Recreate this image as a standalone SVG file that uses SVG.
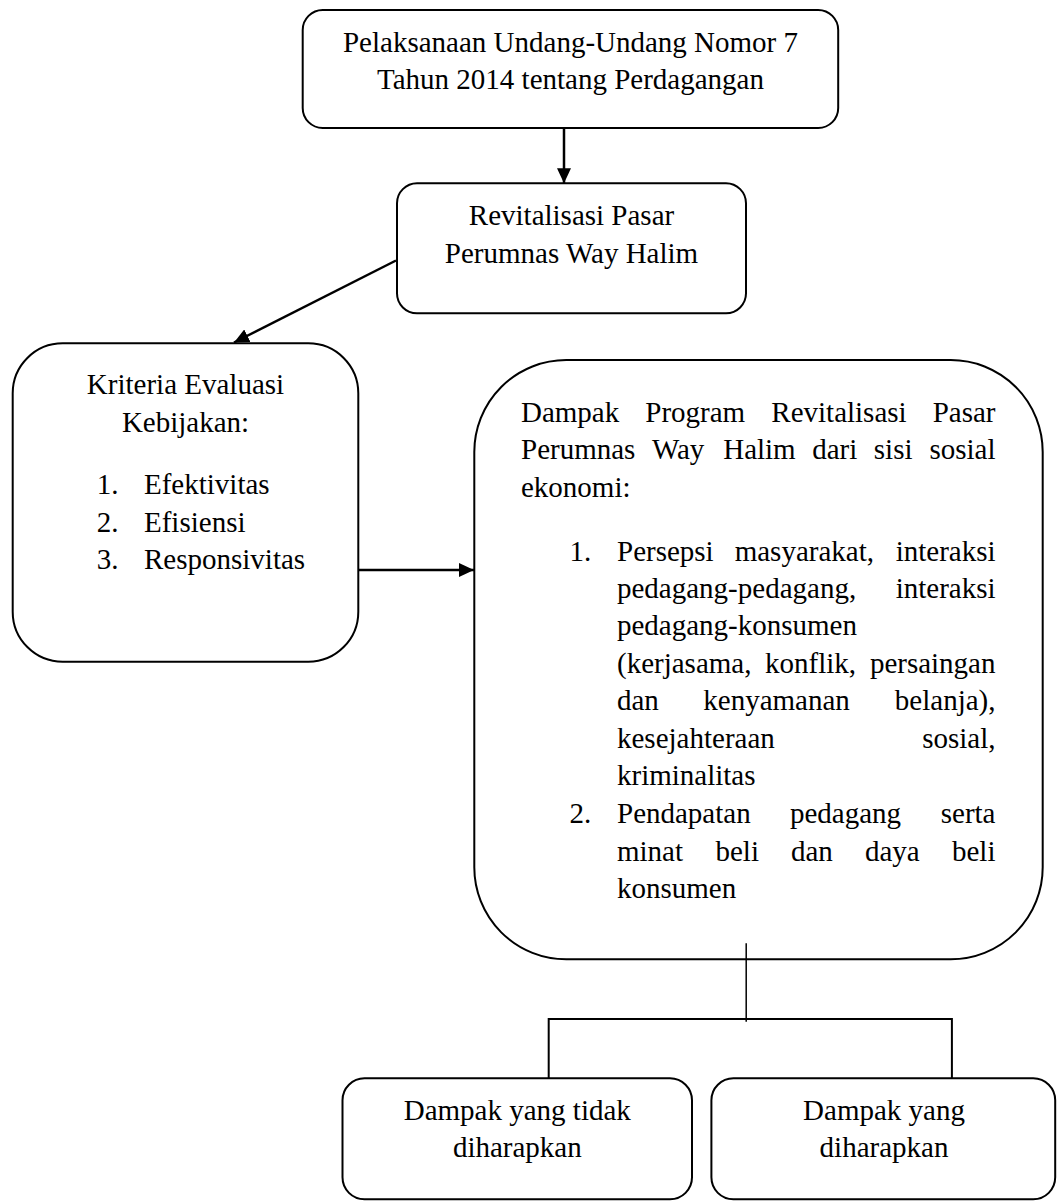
<svg xmlns="http://www.w3.org/2000/svg" width="1057" height="1202" viewBox="0 0 1057 1202">
<style>
.box{fill:#fff;stroke:#000;stroke-width:2}
text{font-family:"Liberation Serif","Times New Roman",serif;font-size:29px;fill:#000}
.c{text-anchor:middle}
.e{text-anchor:end}
.ln{stroke:#000;stroke-width:2.5;fill:none}
.br{stroke:#000;stroke-width:2;fill:none}
.thin{stroke:#000;stroke-width:1.5;fill:none}
</style>
<defs>
<marker id="ah" markerUnits="userSpaceOnUse" markerWidth="15" markerHeight="14" refX="15" refY="7" orient="auto"><path d="M0,0 L15,7 L0,14 z" fill="#000"/></marker>
</defs>
<rect width="1057" height="1202" fill="#fff"/>

<g id="node-uu">
<rect class="box" x="302.7" y="10" width="535.5" height="118" rx="20"/>
<text class="c" x="570.5" y="51.7">Pelaksanaan Undang-Undang Nomor 7</text>
<text class="c" x="570.5" y="89.3">Tahun 2014 tentang Perdagangan</text>
</g>

<g id="node-revitalisasi">
<rect class="box" x="397" y="183.3" width="349" height="130" rx="20"/>
<text class="c" x="571.5" y="225">Revitalisasi Pasar</text>
<text class="c" x="571.5" y="263">Perumnas Way Halim</text>
</g>

<g id="node-kriteria">
<rect class="box" x="12.7" y="343.3" width="345.6" height="318.4" rx="50"/>
<text class="c" x="185.5" y="394">Kriteria Evaluasi</text>
<text class="c" x="185.5" y="431.7">Kebijakan:</text>
<text x="96.7" y="494">1.</text><text x="144" y="494">Efektivitas</text>
<text x="96.7" y="531.5">2.</text><text x="144" y="531.5">Efisiensi</text>
<text x="96.7" y="569.3">3.</text><text x="144" y="569.3">Responsivitas</text>
</g>

<g id="node-dampak-program">
<rect class="box" x="474.3" y="360" width="568.4" height="599.3" rx="92"/>
<text y="421.7"><tspan x="521">Dampak</tspan><tspan x="645.3">Program</tspan><tspan x="771.3">Revitalisasi</tspan></text>
<text class="e" x="995.5" y="421.7">Pasar</text>
<text y="459.3"><tspan x="521">Perumnas</tspan><tspan x="651.9">Way</tspan><tspan x="723.2">Halim</tspan><tspan x="812.2">dari</tspan><tspan x="873.8">sisi</tspan></text>
<text class="e" x="995.5" y="459.3">sosial</text>
<text x="521" y="496.7">ekonomi:</text>

<text x="569.5" y="560.7">1.</text>
<text y="560.7"><tspan x="617">Persepsi</tspan><tspan x="734.7">masyarakat,</tspan></text>
<text class="e" x="995.5" y="560.7">interaksi</text>
<text x="617" y="598">pedagang-pedagang,</text>
<text class="e" x="995.5" y="598">interaksi</text>
<text x="617" y="635.4">pedagang-konsumen</text>
<text y="672.7"><tspan x="617">(kerjasama,</tspan><tspan x="765">konflik,</tspan></text>
<text class="e" x="995.5" y="672.7">persaingan</text>
<text y="710.2"><tspan x="617">dan</tspan><tspan x="703.3">kenyamanan</tspan></text>
<text class="e" x="995.5" y="710.2">belanja),</text>
<text x="617" y="747.8">kesejahteraan</text>
<text class="e" x="995.5" y="747.8">sosial,</text>
<text x="617" y="785.3">kriminalitas</text>

<text x="569.5" y="823">2.</text>
<text y="823"><tspan x="617">Pendapatan</tspan><tspan x="789.9">pedagang</tspan></text>
<text class="e" x="995.5" y="823">serta</text>
<text y="860.5"><tspan x="617">minat</tspan><tspan x="715.5">beli</tspan><tspan x="791">dan</tspan><tspan x="865">daya</tspan></text>
<text class="e" x="995.5" y="860.5">beli</text>
<text x="617" y="898">konsumen</text>
</g>

<g id="node-tidak-diharapkan">
<rect class="box" x="342.5" y="1078.3" width="349.5" height="121" rx="22"/>
<text class="c" x="517.3" y="1120">Dampak yang tidak</text>
<text class="c" x="517.3" y="1156.7">diharapkan</text>
</g>

<g id="node-diharapkan">
<rect class="box" x="711.4" y="1078.3" width="343.8" height="121" rx="22"/>
<text class="c" x="884" y="1120">Dampak yang</text>
<text class="c" x="884" y="1156.7">diharapkan</text>
</g>

<g id="connectors">
<line class="ln" x1="564" y1="128" x2="564" y2="183.3" marker-end="url(#ah)"/>
<line class="ln" x1="396" y1="260.5" x2="234" y2="342.5" marker-end="url(#ah)"/>
<line class="ln" x1="358.3" y1="570" x2="474" y2="570" marker-end="url(#ah)"/>
<line class="thin" x1="746.2" y1="943.3" x2="746.2" y2="1021.7"/>
<polyline class="br" points="548.7,1078.3 548.7,1019 951.9,1019 951.9,1078.3"/>
</g>
</svg>
